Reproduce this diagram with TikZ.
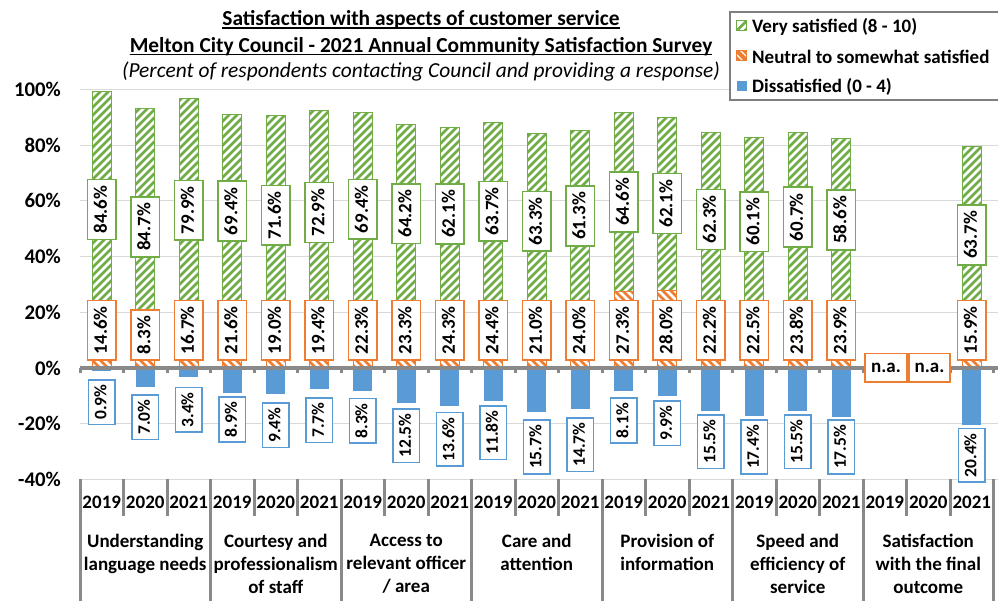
\documentclass[tikz,border=0pt]{standalone}
\usepackage{fontspec}
\setmainfont{Carlito}
\definecolor{cgreen}{HTML}{70AD47}
\definecolor{corange}{HTML}{ED7D31}
\definecolor{cblue}{HTML}{5B9BD5}
\definecolor{cgrid}{HTML}{D9D9D9}
\definecolor{caxis}{HTML}{898989}
\definecolor{clegend}{HTML}{7F7F7F}
\def\data{0/84.6/14.6/0.9/379, 1/84.7/8.3/7.0/394, 2/79.9/16.7/3.4/386.7, 3/69.4/21.6/8.9/396.3, 4/71.6/19.0/9.4/402, 5/72.9/19.4/7.7/397, 6/69.4/22.3/8.3/397.7, 7/64.2/23.3/12.5/408, 8/62.1/24.3/13.6/411.7, 9/63.7/24.4/11.8/405, 10/63.3/21.0/15.7/419.3, 11/61.3/24.0/14.7/417, 12/64.6/27.3/8.1/397.3, 13/62.1/28.0/9.9/400, 14/62.3/22.2/15.5/414, 15/60.1/22.5/17.4/419.3, 16/60.7/23.8/15.5/414, 17/58.6/23.9/17.5/419.3, 20/63.7/15.9/20.4/427.7}
\tikzset{
  lbl/.style={font=\fontsize{19}{22}\selectfont\bfseries},
  dlab/.style={lbl, draw=#1, fill=white, line width=1.6pt, rotate=90, inner xsep=6pt, inner ysep=6.2pt, text height=13pt, text depth=3pt},
  blab/.style={font=\fontsize{17.5}{20}\selectfont\bfseries, draw=cblue, fill=white, line width=1.6pt, rotate=90, inner xsep=4.8pt, inner ysep=6pt, text height=12pt, text depth=2.8pt},
  nalab/.style={lbl, draw=corange, fill=white, line width=1.6pt, inner sep=0pt, minimum width=41.5pt, minimum height=28.4pt, text height=13pt, text depth=3pt},
  ytick/.style={font=\fontsize{20.8}{24}\selectfont\bfseries, anchor=east, inner sep=0pt},
  catlab/.style={lbl, font=\fontsize{19}{23.3}\selectfont\bfseries, align=center, anchor=north, inner sep=0pt},
  sep/.style={caxis, line width=3pt},
}
\begin{document}
\begin{tikzpicture}[x=1pt,y=-1pt]
\clip (0,0) rectangle (998,601);
\fill[white] (0,0) rectangle (998,601);
% gridlines and y labels
\foreach \v in {100,80,...,-40}{
  \draw[cgrid, line width=1.2pt] (80,{368-2.785*\v}) -- (998,{368-2.785*\v});
  \node[ytick] (y\v) at (61,{368-2.785*\v}) {\v\%};
}
% green hatched bars
\begin{scope}
\clip \foreach \i/\v/\n/\d/\bt in \data { ({80+(\i+0.5)*43.5-9.5},{368-2.785*\n}) rectangle ++(19,{-2.785*\v}) };
\fill[white] (80,80) rectangle (1000,380);
\foreach \c in {0,8,...,1400} \draw[cgreen, line width=2.6pt] (\c,80) -- ++(-300,300);
\end{scope}
\foreach \i/\v/\n/\d/\bt in \data
  \draw[cgreen, line width=1pt] ({80+(\i+0.5)*43.5-9.5},{368-2.785*\n}) rectangle ++(19,{-2.785*\v});
% orange hatched bars
\begin{scope}
\clip \foreach \i/\v/\n/\d/\bt in \data { ({80+(\i+0.5)*43.5-9.5},368) rectangle ++(19,{-2.785*\n}) };
\fill[white] (80,200) rectangle (1000,380);
\foreach \c in {-300,-292,...,1000} \draw[corange, line width=2.6pt] (\c,80) -- ++(300,300);
\end{scope}
\foreach \i/\v/\n/\d/\bt in \data
  \draw[corange, line width=1pt] ({80+(\i+0.5)*43.5-9.5},368) rectangle ++(19,{-2.785*\n});
% blue bars
\foreach \i/\v/\n/\d/\bt in \data
  \fill[cblue] ({80+(\i+0.5)*43.5-9.5},368) rectangle ++(19,{2.785*\d});
% zero axis
\draw[caxis, line width=3.6pt] (80,368) -- (998,368);
\foreach \k in {0,...,21} \draw[caxis, line width=3pt] ({80+43.5*\k},368) -- ++(0,5);
% category axis separators
\foreach \k in {0,...,21}{
  \pgfmathsetmacro\yend{mod(\k,3)==0 ? 601 : 515.5}
  \draw[sep] ({80+43.5*\k},479) -- ({80+43.5*\k},\yend);
}
% year labels
\foreach \k in {0,...,20}{
  \pgfmathtruncatemacro\yr{2019+mod(\k,3)}
  \node[lbl, anchor=base, inner sep=0pt] (yr\k) at ({80+(\k+0.5)*43.5},508.5) {\yr};
}
% category labels
\node[catlab] (c1) at (145.25,533.5) {Understanding\\language needs};
\node[catlab] (c2) at (275.75,533.5) {Courtesy and\\professionalism\\of staff};
\node[catlab] (c3) at (406.25,533.5) {Access to\\relevant officer\\/ area};
\node[catlab] (c4) at (536.75,533.5) {Care and\\attention};
\node[catlab] (c5) at (667.25,533.5) {Provision of\\information};
\node[catlab] (c6) at (797.75,533.5) {Speed and\\efficiency of\\service};
\node[catlab] (c7) at (928.25,533.5) {Satisfaction\\with the final\\outcome};
% data labels
\foreach \i/\v/\n/\d/\bt in \data{
  \node[dlab=cgreen] (g\i) at ({80+(\i+0.5)*43.5},{368-2.785*(\n+\v/2)}) {\v\%};
  \node[dlab=corange, anchor=west] (o\i) at ({80+(\i+0.5)*43.5},361) {\n\%};
  \node[blab, anchor=east] (b\i) at ({80+(\i+0.5)*43.5},\bt) {\d\%};
}
\node[nalab] (na18) at (886,367.5) {n.a.};
\node[nalab] (na19) at (929.5,367.5) {n.a.};
% title
\node[font=\fontsize{21.4}{25}\selectfont\bfseries, anchor=base, inner sep=0pt] (t1) at (421,26) {Satisfaction with aspects of customer service};
\node[font=\fontsize{21.4}{25}\selectfont\bfseries, anchor=base, inner sep=0pt] (t2) at (421,52.3) {Melton City Council - 2021 Annual Community Satisfaction Survey};
\node[font=\fontsize{21.4}{25}\selectfont\itshape, anchor=base, inner sep=0pt] (t3) at (421,77.3) {(Percent of respondents contacting Council and providing a response)};
\draw[line width=1.3pt] ([yshift=-2pt]t1.base west) -- ([yshift=-2pt]t1.base east);
\draw[line width=1.3pt] ([yshift=-2pt]t2.base west) -- ([yshift=-2pt]t2.base east);
% legend
\draw[clegend, line width=2pt, fill=white] (730,12.5) rectangle (1010,100.5);
\begin{scope}
\clip (736.5,20.7) rectangle (746.5,30.7);
\fill[white] (736.5,20.7) rectangle (746.5,30.7);
\draw[cgreen, line width=2.6pt] (735,32.5) -- (748,19.5);
\draw[cgreen, line width=2.6pt] (735,40.5) -- (748,27.5);
\end{scope}
\draw[cgreen, line width=1pt] (736.5,20.7) rectangle (746.5,30.7);
\begin{scope}
\clip (736.5,50.7) rectangle (746.5,60.7);
\fill[corange] (736.5,50.7) rectangle (746.5,60.7);
\draw[white, line width=1.2pt] (735,53) -- (744,62);
\draw[white, line width=1.2pt] (739,49) -- (748,58);
\end{scope}
\draw[corange, line width=1pt] (736.5,50.7) rectangle (746.5,60.7);
\fill[cblue] (736.5,80.7) rectangle (746.5,90.7);
\node[lbl, anchor=west, inner sep=0pt] (l1) at (752,26.7) {Very satisfied (8 - 10)};
\node[lbl, anchor=west, inner sep=0pt] (l2) at (752,56.7) {Neutral to somewhat satisfied};
\node[lbl, anchor=west, inner sep=0pt] (l3) at (752,86.7) {Dissatisfied (0 - 4)};
\end{tikzpicture}
\end{document}
